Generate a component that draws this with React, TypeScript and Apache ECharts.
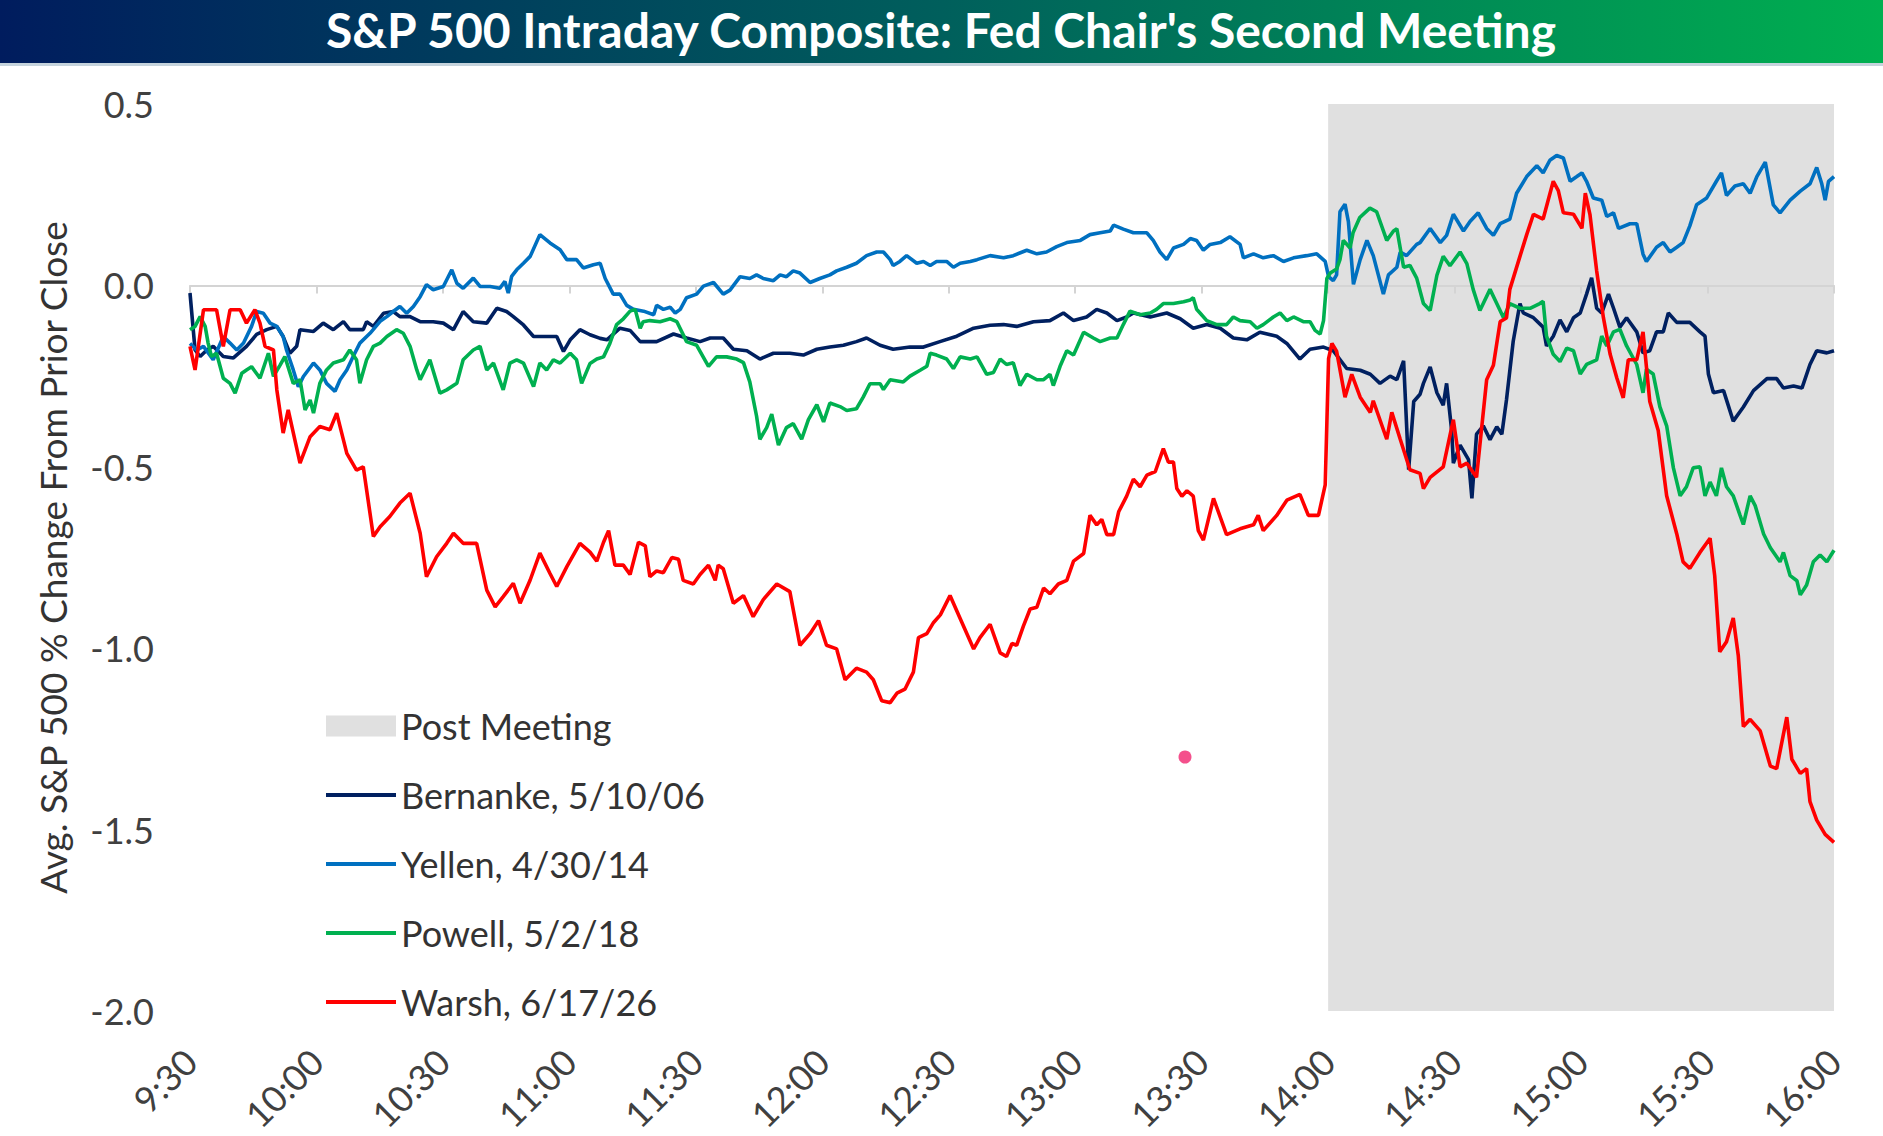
import React, { useEffect, useRef } from 'react';
import * as echarts from 'echarts';

const FONT = 'Lato, "Open Sans", sans-serif';

const SERIES_NAMES = ['Bernanke, 5/10/06', 'Yellen, 4/30/14', 'Powell, 5/2/18', 'Warsh, 6/17/26'];
const SERIES_COLORS = ['#002060', '#0070c0', '#00b050', '#ff0000'];
const SHADE_NAME = 'Post Meeting';
const SHADE_FROM = 270; // 14:00
const SHADE_TO = 390; // 16:00

// [minutes after 9:30, avg % change]
const bernanke = [
  [0, -0.021], [1.2, -0.178], [2.4, -0.196], [4, -0.178], [5.5, -0.168], [7.9, -0.196],
  [10.3, -0.2], [13.4, -0.168], [15.8, -0.135], [18.2, -0.122], [20.6, -0.113], [22.1, -0.141],
  [23.7, -0.187], [25.3, -0.168], [26.1, -0.122], [29.3, -0.127], [31.6, -0.104], [34, -0.122],
  [36.4, -0.1], [37.9, -0.122], [41.1, -0.122], [41.9, -0.1], [43.5, -0.113], [45.9, -0.077],
  [48.2, -0.072], [49.8, -0.086], [52.2, -0.086], [54.6, -0.1], [57.7, -0.1], [60.1, -0.104],
  [62.5, -0.122], [64.8, -0.072], [67.2, -0.1], [70.4, -0.104], [72.8, -0.063], [75.1, -0.072],
  [76.7, -0.086], [79.1, -0.109], [81.5, -0.141], [84.6, -0.141], [87, -0.141], [88.6, -0.182],
  [90.2, -0.15], [92.5, -0.122], [94.9, -0.136], [97.3, -0.146], [98.9, -0.15], [102, -0.118],
  [104.4, -0.124], [106.8, -0.155], [110.7, -0.155], [114.7, -0.134], [117.8, -0.145], [121, -0.155],
  [123.4, -0.145], [126.5, -0.145], [128.9, -0.176], [132.1, -0.18], [135.2, -0.203], [138.4, -0.187],
  [142.3, -0.187], [145.5, -0.192], [148.7, -0.176], [151.8, -0.17], [155, -0.165], [158.1, -0.155],
  [160.5, -0.145], [163.7, -0.165], [166.8, -0.176], [170.8, -0.17], [174, -0.17], [177.9, -0.155],
  [181.9, -0.14], [185.9, -0.118], [189.8, -0.11], [193, -0.108], [196.1, -0.113], [200.1, -0.1],
  [204, -0.097], [207.2, -0.076], [209.6, -0.097], [212.7, -0.087], [215.1, -0.066], [217.5, -0.076],
  [219.9, -0.097], [222.2, -0.087], [223.8, -0.076], [227.8, -0.087], [231.7, -0.076], [234.9, -0.092],
  [238, -0.118], [241.2, -0.108], [244.4, -0.118], [247.5, -0.145], [250.7, -0.15], [253.8, -0.129],
  [257.8, -0.14], [260.2, -0.16], [263.3, -0.203], [265.7, -0.176], [268.9, -0.17], [271.2, -0.18],
  [274.4, -0.229], [277.6, -0.234], [280, -0.245], [282.3, -0.27], [284.7, -0.25], [286.3, -0.26],
  [287.9, -0.208], [289.1, -0.508], [290.3, -0.32], [291.8, -0.3], [292.6, -0.27], [294.2, -0.225],
  [295.8, -0.296], [297.3, -0.33], [298.1, -0.27], [299.3, -0.4], [299.7, -0.49], [301.3, -0.44],
  [303.3, -0.48], [304.1, -0.587], [305.2, -0.41], [306.8, -0.387], [308.4, -0.425], [310, -0.39],
  [311.2, -0.41], [312.3, -0.316], [313.9, -0.154], [315.5, -0.05], [316.3, -0.076], [318.7, -0.089],
  [321, -0.115], [321.8, -0.167], [323.4, -0.14], [325, -0.095], [326.6, -0.128], [328.2, -0.089],
  [329.8, -0.076], [331.3, -0.024], [332.5, 0.021], [333.7, -0.063], [334.9, -0.076], [336.5, -0.024],
  [337.7, -0.063], [339.2, -0.115], [340.8, -0.089], [343.2, -0.128], [344.7, -0.186], [346.3, -0.18],
  [347.9, -0.128], [349.5, -0.128], [350.7, -0.076], [352.7, -0.102], [355.8, -0.102], [358.2, -0.128],
  [359.4, -0.14], [360.2, -0.244], [361.4, -0.296], [363.8, -0.29], [366.1, -0.374], [368.5, -0.335],
  [370.9, -0.29], [374.1, -0.257], [376.4, -0.257], [378, -0.283], [380.4, -0.277], [382.4, -0.283],
  [384.3, -0.218], [385.9, -0.18], [388.3, -0.186], [390, -0.18],
];

const yellen = [
  [0, -0.16], [1.6, -0.178], [3.2, -0.168], [5.5, -0.205], [7.9, -0.141], [9.5, -0.159],
  [11.1, -0.178], [12.7, -0.159], [14.6, -0.113], [15.8, -0.072], [17.4, -0.077], [19, -0.104],
  [20.6, -0.113], [22.1, -0.141], [22.9, -0.178], [24.5, -0.233], [25.7, -0.279], [26.9, -0.251],
  [29.3, -0.214], [30.8, -0.233], [32.4, -0.27], [34.4, -0.292], [35.6, -0.26], [37.2, -0.233],
  [38.7, -0.196], [40.3, -0.159], [42.7, -0.132], [45.1, -0.099], [46.7, -0.086], [48.2, -0.072],
  [49.8, -0.058], [51.4, -0.077], [53, -0.058], [54.6, -0.031], [56.1, 0.002], [57.7, -0.012],
  [60.1, -0.003], [62.1, 0.043], [63.3, 0.006], [64.8, -0.008], [67.2, 0.02], [68.8, -0.003],
  [71.2, -0.003], [73.5, -0.008], [74.7, 0.011], [75.5, -0.021], [76.3, 0.025], [77.5, 0.043],
  [79.1, 0.061], [80.7, 0.08], [83, 0.14], [85.4, 0.117], [87.8, 0.098], [89.4, 0.071],
  [91.7, 0.071], [93.3, 0.048], [95.7, 0.057], [97.3, 0.061], [98.5, 0.019], [100.4, -0.024],
  [102, -0.024], [103.6, -0.055], [105.2, -0.066], [107.6, -0.071], [110, -0.081], [110.7, -0.055],
  [112.3, -0.066], [113.9, -0.06], [115.1, -0.076], [116.3, -0.066], [117.8, -0.034], [120.2, -0.024],
  [121.8, -0.002], [124.2, 0.008], [126.5, -0.024], [128.1, -0.013], [130.5, 0.024], [132.8, 0.019],
  [134.4, 0.029], [136, 0.019], [138.4, 0.013], [140, 0.029], [141.5, 0.024], [143.1, 0.04],
  [144.7, 0.034], [147.1, 0.008], [149.4, 0.019], [151.8, 0.029], [153.4, 0.04], [155.8, 0.05],
  [158.1, 0.061], [160.5, 0.082], [162.9, 0.092], [164.5, 0.092], [166.1, 0.071], [166.8, 0.055],
  [168.4, 0.066], [170, 0.082], [172.4, 0.061], [174, 0.066], [175.6, 0.055], [177.1, 0.066],
  [179.5, 0.066], [181.1, 0.05], [182.7, 0.061], [185.1, 0.066], [186.7, 0.071], [189.8, 0.082],
  [193, 0.076], [195.3, 0.082], [198.5, 0.097], [200.9, 0.087], [203.2, 0.092], [205.6, 0.107],
  [208, 0.118], [211.2, 0.124], [213.5, 0.14], [215.9, 0.145], [218.3, 0.15], [219.1, 0.166],
  [221.4, 0.155], [223.8, 0.145], [227, 0.145], [228.5, 0.124], [230.1, 0.092], [231.7, 0.071],
  [233.3, 0.103], [235.7, 0.113], [237.3, 0.129], [238.8, 0.124], [240.4, 0.097], [242, 0.113],
  [244.4, 0.118], [246.7, 0.134], [249.1, 0.113], [249.9, 0.076], [252.3, 0.087], [254.6, 0.076],
  [257, 0.082], [259.4, 0.066], [261.8, 0.076], [264.9, 0.082], [267.3, 0.087], [269.3, 0.066],
  [270.1, 0.024], [271.2, 0.013], [272, 0.029], [272.8, 0.203], [274, 0.224], [274.8, 0.176],
  [276, 0.003], [277.6, 0.071], [279.2, 0.124], [280.7, 0.082], [283.1, -0.024], [284.3, 0.029],
  [286.3, 0.05], [287.1, 0.092], [288.6, 0.082], [291, 0.113], [291.8, 0.118], [294.2, 0.157],
  [296.6, 0.118], [298.1, 0.138], [299.7, 0.196], [302.1, 0.15], [303.7, 0.177], [305.6, 0.2],
  [307.6, 0.157], [309.2, 0.138], [310.8, 0.17], [313.1, 0.183], [314.7, 0.254], [317.1, 0.3],
  [319.5, 0.33], [321, 0.31], [322.6, 0.345], [324.2, 0.358], [325.8, 0.351], [327.4, 0.287],
  [329, 0.3], [330.2, 0.31], [331.3, 0.287], [332.9, 0.241], [334.9, 0.235], [336.1, 0.19],
  [337.7, 0.2], [338.9, 0.157], [341.6, 0.17], [343.2, 0.17], [344.7, 0.086], [345.5, 0.066],
  [347.9, 0.105], [349.5, 0.118], [351.1, 0.092], [352.7, 0.105], [354.2, 0.118], [355.8, 0.164],
  [357.4, 0.222], [359.8, 0.241], [362.1, 0.287], [363.3, 0.31], [364.5, 0.248], [366.5, 0.274],
  [368.5, 0.28], [370.1, 0.254], [371.7, 0.3], [373.7, 0.34], [375.6, 0.222], [377.2, 0.2],
  [379.6, 0.235], [382, 0.26], [384.3, 0.28], [385.9, 0.325], [387.1, 0.28], [387.9, 0.235],
  [388.7, 0.287], [390, 0.3],
];

const powell = [
  [0, -0.122], [1.2, -0.113], [2.4, -0.086], [3.6, -0.113], [4.3, -0.159], [5.1, -0.196],
  [6.3, -0.187], [7.9, -0.256], [9.5, -0.27], [10.7, -0.297], [12.3, -0.242], [13.4, -0.233],
  [14.6, -0.224], [16.6, -0.256], [18.6, -0.187], [19.8, -0.251], [21.4, -0.219], [22.5, -0.196],
  [24.5, -0.27], [26.1, -0.26], [27.3, -0.343], [28.5, -0.316], [29.3, -0.352], [30.8, -0.27],
  [32.4, -0.233], [34, -0.214], [36.4, -0.205], [37.9, -0.178], [39.5, -0.205], [40.3, -0.27],
  [41.9, -0.205], [43.5, -0.168], [45.1, -0.159], [46.7, -0.141], [49, -0.122], [50.6, -0.132],
  [52.2, -0.168], [53.8, -0.233], [54.6, -0.26], [56.9, -0.205], [59.3, -0.297], [60.9, -0.288],
  [63.3, -0.27], [64.8, -0.205], [67.2, -0.178], [68.8, -0.168], [70.4, -0.233], [72, -0.214],
  [74.3, -0.288], [75.9, -0.214], [77.5, -0.205], [79.1, -0.214], [81.5, -0.279], [83, -0.214],
  [84.6, -0.233], [86.2, -0.205], [87.8, -0.214], [90.2, -0.187], [91.7, -0.205], [92.9, -0.27],
  [94.9, -0.215], [96.5, -0.203], [98.1, -0.197], [99.6, -0.16], [101.2, -0.108], [102.8, -0.092],
  [104.4, -0.071], [105.6, -0.066], [106.8, -0.118], [107.5, -0.1], [109.1, -0.097], [111.5, -0.1],
  [113.9, -0.092], [115.5, -0.1], [117.8, -0.155], [120.2, -0.165], [123, -0.223], [124.9, -0.197],
  [127.3, -0.197], [129.7, -0.203], [131.3, -0.213], [132.8, -0.266], [134.4, -0.36], [135.2, -0.424],
  [136.8, -0.392], [138, -0.355], [139.6, -0.44], [141.5, -0.392], [143.1, -0.381], [145.1, -0.424],
  [146.7, -0.37], [148.7, -0.329], [150.3, -0.376], [151.8, -0.324], [154.2, -0.334], [155.8, -0.345],
  [158.1, -0.34], [159.7, -0.308], [161.3, -0.271], [163.7, -0.271], [164.5, -0.287], [166.1, -0.26],
  [169.2, -0.266], [170.8, -0.25], [173.2, -0.234], [174.8, -0.223], [175.6, -0.187], [177.1, -0.192],
  [179.5, -0.203], [181.1, -0.229], [182.7, -0.197], [185.1, -0.203], [186.7, -0.197], [189, -0.245],
  [190.6, -0.24], [192.2, -0.203], [193.7, -0.218], [195.3, -0.213], [196.9, -0.276], [198.5, -0.245],
  [200.9, -0.26], [202.5, -0.26], [204, -0.245], [204.8, -0.276], [206.4, -0.223], [208, -0.18],
  [209.6, -0.192], [212, -0.129], [214.3, -0.145], [215.9, -0.155], [218.3, -0.145], [219.9, -0.145],
  [221.4, -0.108], [223, -0.071], [225.4, -0.081], [227.8, -0.076], [229.3, -0.066], [230.9, -0.05],
  [233.3, -0.05], [235.7, -0.045], [237.3, -0.04], [238, -0.034], [238.8, -0.066], [239.6, -0.076],
  [241.2, -0.097], [243.6, -0.108], [245.9, -0.108], [247.5, -0.087], [249.1, -0.097], [251.5, -0.1],
  [253.1, -0.118], [254.6, -0.108], [257, -0.087], [258.6, -0.076], [260.2, -0.097], [261.8, -0.087],
  [264.1, -0.1], [265.7, -0.1], [266.9, -0.124], [268.1, -0.134], [268.9, -0.097], [269.7, 0.019],
  [270.5, 0.034], [272, 0.045], [272.8, 0.071], [273.6, 0.124], [275.2, 0.103], [275.9, 0.145],
  [277.5, 0.187], [279.9, 0.213], [281.5, 0.203], [283.9, 0.124], [285.5, 0.15], [286.3, 0.156],
  [287.9, 0.05], [289.4, 0.055], [291, 0.02], [292.6, -0.05], [294.2, -0.069], [295.8, 0.028],
  [297.3, 0.08], [298.9, 0.054], [301.3, 0.092], [302.9, 0.06], [304.4, -0.011], [306, -0.069],
  [308.4, -0.011], [310, -0.05], [311.6, -0.089], [313.1, -0.05], [315.5, -0.063], [317.9, -0.063],
  [320.2, -0.05], [321, -0.044], [321.8, -0.14], [323.4, -0.19], [325, -0.21], [326.6, -0.173],
  [328.2, -0.18], [329.8, -0.244], [331.3, -0.218], [333.7, -0.205], [334.9, -0.14], [336.1, -0.167],
  [337.7, -0.128], [339.2, -0.121], [340.8, -0.167], [343.2, -0.218], [344.7, -0.296], [345.5, -0.231],
  [347.1, -0.244], [348.7, -0.335], [350.3, -0.387], [351.9, -0.503], [353.5, -0.58], [355, -0.555],
  [356.6, -0.503], [358.2, -0.5], [359.4, -0.58], [360.6, -0.542], [362.1, -0.58], [363.3, -0.503],
  [364.5, -0.555], [366.1, -0.58], [367.7, -0.633], [368.5, -0.659], [370.1, -0.58], [371.3, -0.607],
  [373.3, -0.685], [374.9, -0.723], [377.2, -0.762], [378, -0.736], [379.6, -0.8], [381.2, -0.814],
  [382, -0.853], [383.5, -0.826], [385.1, -0.762], [386.7, -0.743], [388.3, -0.762], [390, -0.73],
];

const warsh = [
  [0, -0.168], [1.2, -0.233], [3.2, -0.067], [6.3, -0.067], [7.9, -0.168], [9.5, -0.067],
  [11.9, -0.067], [13.4, -0.104], [15.4, -0.067], [16.6, -0.104], [17.8, -0.168], [19.8, -0.178],
  [20.6, -0.288], [22.1, -0.407], [23.3, -0.343], [26.1, -0.49], [28.5, -0.417], [30.8, -0.389],
  [33.2, -0.398], [34.8, -0.352], [37.2, -0.463], [39.5, -0.509], [41.1, -0.5], [43.5, -0.692],
  [45.1, -0.665], [47.4, -0.637], [49.8, -0.6], [52.2, -0.573], [54.6, -0.683], [56.1, -0.803],
  [58.5, -0.748], [60.9, -0.711], [62.5, -0.683], [64.8, -0.711], [68, -0.711], [70.4, -0.84],
  [72.4, -0.886], [74.3, -0.858], [76.7, -0.821], [78.3, -0.876], [80.7, -0.812], [83, -0.738],
  [85.4, -0.794], [87, -0.83], [89.4, -0.775], [92.5, -0.711], [94.9, -0.735], [96.5, -0.76],
  [98.1, -0.708], [99.3, -0.676], [100.8, -0.771], [102.8, -0.771], [104.4, -0.797], [106.4, -0.708],
  [108, -0.718], [109.1, -0.803], [110.7, -0.787], [112.3, -0.792], [114.3, -0.75], [115.9, -0.755],
  [117, -0.813], [119.4, -0.823], [121, -0.797], [123, -0.771], [124.6, -0.813], [125.3, -0.771],
  [126.5, -0.781], [128.9, -0.876], [131.3, -0.855], [133.6, -0.913], [136, -0.866], [139.2, -0.823],
  [142.3, -0.844], [144.7, -0.992], [147.1, -0.96], [149.1, -0.924], [151, -0.992], [153.4, -1.002],
  [155.4, -1.087], [158.1, -1.055], [160.5, -1.066], [162.1, -1.087], [164.1, -1.145], [166.1, -1.15],
  [167.7, -1.124], [169.6, -1.113], [171.6, -1.066], [172.8, -0.971], [174.8, -0.96], [176.4, -0.929],
  [178, -0.908], [180.3, -0.855], [182.7, -0.918], [185.9, -1.002], [187.4, -0.971], [189.8, -0.934],
  [192.2, -1.013], [193.7, -1.023], [195, -0.987], [196.1, -0.992], [197.7, -0.939], [199.3, -0.892],
  [200.9, -0.887], [202.5, -0.834], [204, -0.85], [206, -0.823], [208, -0.813], [209.6, -0.76],
  [212, -0.739], [213.5, -0.634], [215.1, -0.66], [216.3, -0.645], [217.5, -0.687], [219.1, -0.687],
  [220.3, -0.624], [222.2, -0.581], [223.8, -0.534], [225.4, -0.555], [227, -0.523], [229, -0.513],
  [230.9, -0.45], [232.1, -0.487], [233.3, -0.487], [234.1, -0.56], [235.3, -0.581], [236.5, -0.566],
  [238, -0.581], [239.2, -0.676], [240.4, -0.702], [242.8, -0.587], [245.9, -0.687], [249.1, -0.671],
  [252.3, -0.66], [253.4, -0.634], [254.6, -0.676], [257.8, -0.634], [260.2, -0.592], [263.3, -0.576],
  [265.3, -0.634], [267.7, -0.634], [269.3, -0.55], [270.1, -0.202], [270.9, -0.16], [272, -0.181],
  [274, -0.308], [275.6, -0.245], [277.6, -0.308], [280, -0.35], [280.7, -0.318], [283.9, -0.424],
  [285.1, -0.35], [287.1, -0.424], [289.4, -0.508], [291.8, -0.518], [292.6, -0.56], [294.2, -0.529],
  [297.3, -0.5], [299.7, -0.37], [301.3, -0.5], [302.9, -0.49], [305.2, -0.529], [307.6, -0.26],
  [309.2, -0.22], [310.8, -0.1], [312.3, -0.09], [313.1, -0.011], [315.5, 0.08], [317.1, 0.14],
  [318.7, 0.196], [321, 0.183], [323.4, 0.287], [324.6, 0.261], [325.8, 0.2], [328.2, 0.196],
  [330.2, 0.157], [331, 0.254], [332.1, 0.196], [333.7, 0.04], [335.3, -0.089], [336.9, -0.19],
  [338.5, -0.256], [340, -0.31], [341.2, -0.205], [343.2, -0.205], [344.7, -0.128], [346.3, -0.32],
  [348.3, -0.4], [350.3, -0.58], [352.7, -0.685], [354.2, -0.762], [355.8, -0.78], [358.2, -0.736],
  [360.6, -0.697], [361.7, -0.8], [362.9, -1.01], [364.5, -0.982], [366.1, -0.917], [367.3, -1.021],
  [368.5, -1.216], [370.1, -1.196], [372.5, -1.228], [374.9, -1.325], [376.4, -1.332], [378.8, -1.19],
  [380, -1.306], [382, -1.345], [383.5, -1.332], [384.3, -1.423], [385.9, -1.474], [387.9, -1.513],
  [390, -1.535],
];

const SERIES_DATA = [bernanke, yellen, powell, warsh];

const fmtTime = (m: number) => {
  const total = 9 * 60 + 30 + m;
  const h = Math.floor(total / 60);
  const mm = total % 60;
  return `${h}:${mm < 10 ? '0' + mm : mm}`;
};

export default function App() {
  const ref = useRef<HTMLDivElement>(null);

  useEffect(() => {
    if (!ref.current) return;
    const chart = echarts.init(ref.current, undefined, { renderer: 'svg' });

    const lines = SERIES_NAMES.map((name, i) => ({
      name,
      type: 'line',
      xAxisIndex: 0,
      data: SERIES_DATA[i],
      showSymbol: false,
      symbol: 'none',
      z: 3,
      color: SERIES_COLORS[i],
      lineStyle: { color: SERIES_COLORS[i], width: 3.6 },
    }));

    const option = {
      animation: false,
      backgroundColor: '#ffffff',
      textStyle: { fontFamily: FONT },
      grid: { left: 190, right: 49, top: 104, bottom: 125 },
      legend: {
        orient: 'vertical',
        left: 324,
        top: 708,
        padding: 0,
        itemWidth: 70,
        itemHeight: 21,
        itemGap: 33,
        selectedMode: false,
        textStyle: { fontFamily: FONT, fontSize: 36, color: '#333333' },
        data: [
          { name: SHADE_NAME, icon: 'rect', itemStyle: { color: '#e0e0e0' } },
          ...SERIES_NAMES.map((name, i) => ({
            name,
            itemStyle: { opacity: 0 },
            lineStyle: { color: SERIES_COLORS[i], width: 4 },
          })),
        ],
      },
      xAxis: [
        {
          type: 'value',
          min: 0,
          max: 390,
          interval: 30,
          z: 2,
          axisLine: { onZero: true, lineStyle: { color: '#d4d4d4', width: 2 } },
          axisTick: { show: true, length: 8, lineStyle: { color: '#d4d4d4', width: 2 } },
          axisLabel: { show: false },
          splitLine: { show: false },
        },
        {
          type: 'value',
          min: 0,
          max: 390,
          interval: 30,
          position: 'bottom',
          axisLine: { show: false, onZero: false },
          axisTick: { show: false },
          splitLine: { show: false },
          axisLabel: {
            rotate: 45,
            margin: 44,
            fontFamily: FONT,
            fontSize: 36,
            color: '#404040',
            formatter: fmtTime,
          },
        },
      ],
      yAxis: {
        type: 'value',
        min: -2,
        max: 0.5,
        interval: 0.5,
        axisLine: { show: false },
        axisTick: { show: false },
        splitLine: { show: false },
        axisLabel: {
          margin: 36,
          fontFamily: FONT,
          fontSize: 36,
          color: '#404040',
          formatter: (v: number) => v.toFixed(1),
        },
        name: 'Avg. S&P 500 % Change From Prior Close',
        nameLocation: 'middle',
        nameGap: 119,
        nameTextStyle: { fontFamily: FONT, fontSize: 37, color: '#333333' },
      },
      graphic: [
        {
          type: 'rect',
          shape: { x: 0, y: 0, width: 1883, height: 63 },
          style: {
            fill: new echarts.graphic.LinearGradient(0, 0, 1, 0, [
              { offset: 0, color: '#001c5e' },
              { offset: 0.5, color: '#005f5c' },
              { offset: 1, color: '#00b050' },
            ]),
          },
        },
        {
          type: 'rect',
          shape: { x: 0, y: 63, width: 1883, height: 3 },
          style: { fill: '#c5d3dc' },
        },
        {
          type: 'text',
          x: 941,
          y: 29,
          style: {
            text: "S&P 500 Intraday Composite: Fed Chair's Second Meeting",
            fill: '#ffffff',
            font: `bold 48px ${FONT}`,
            textAlign: 'center',
            textVerticalAlign: 'middle',
          },
        },
        {
          type: 'circle',
          shape: { cx: 1185, cy: 757, r: 6.5 },
          style: { fill: '#f4508c' },
        },
      ],
      series: [
        {
          name: SHADE_NAME,
          type: 'line',
          data: [],
          z: 1,
          color: '#e0e0e0',
          itemStyle: { color: '#e0e0e0' },
          lineStyle: { color: '#e0e0e0' },
          markArea: {
            silent: true,
            itemStyle: { color: '#e0e0e0' },
            data: [[{ xAxis: SHADE_FROM }, { xAxis: SHADE_TO }]],
          },
        },
        ...lines,
      ],
    };

    chart.setOption(option);
    return () => chart.dispose();
  }, []);

  return (
    <div
      ref={ref}
      style={{ position: 'fixed', left: 0, top: 0, width: 1883, height: 1136 }}
    />
  );
}
